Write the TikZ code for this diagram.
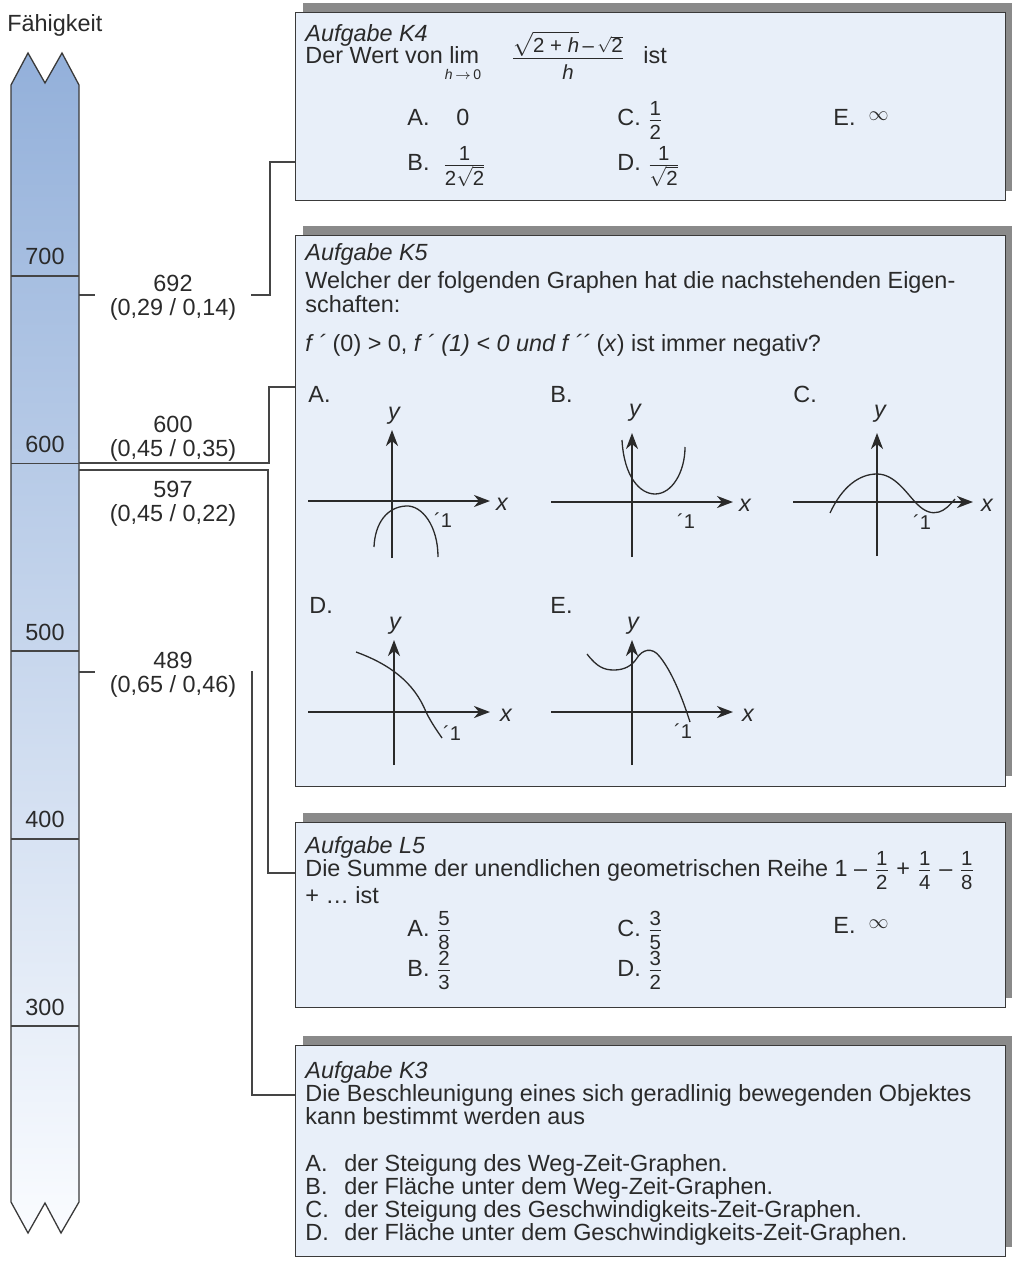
\documentclass[tikz,border=0pt]{standalone}
\usepackage{fontspec}
\setmainfont{Liberation Sans}
\usepackage{amsmath}
\usetikzlibrary{arrows.meta}
\definecolor{boxfill}{HTML}{E8EFF9}
\definecolor{boxline}{HTML}{3A3A3A}
\definecolor{shadowc}{HTML}{8A8A8A}
\definecolor{linec}{HTML}{454545}
\definecolor{bartop}{HTML}{93B0DA}
\definecolor{barbot}{HTML}{FAFCFF}
\definecolor{txtc}{HTML}{2A2A2A}
\newcommand{\msz}{\fontsize{11.7}{11.9}\selectfont}
\newcommand{\ssz}{\fontsize{10.2}{10.4}\selectfont}
\newcommand{\tsz}{\fontsize{7}{8}\selectfont}
\newcommand{\fr}[2]{\ensuremath{\genfrac{}{}{0.45pt}{1}{\text{\ssz\rule[-1.5pt]{0pt}{0pt}#1}}{\text{\ssz\rule{0pt}{9.2pt}#2}}}}
\newcommand{\infsym}{\raisebox{2.5pt}{\ssz$\infty$}}
\begin{document}
\begin{tikzpicture}[x=0.5pt,y=-0.5pt,
  txt/.style={anchor=base west,inner sep=0pt,font=\msz,text=txtc},
  ctxt/.style={anchor=base,inner sep=0pt,font=\msz,text=txtc},
  lab/.style={align=center,inner xsep=7.5pt,inner ysep=0pt,font=\msz,text=txtc},
  qbox/.style={draw=boxline,fill=boxfill,line width=0.7pt,anchor=north west,minimum width=355pt,inner sep=0pt},
  conn/.style={draw=linec,line width=0.65pt},
  axis/.style={draw=txtc,line width=1.2pt},
  axarrow/.style={axis,-{Stealth[length=8pt,width=6pt,inset=2.5pt]}},
  curve/.style={draw=txtc,line width=0.65pt},
  tick/.style={anchor=center,inner sep=0pt,font=\fontsize{10}{10}\selectfont,text=txtc},
  axlab/.style={anchor=center,inner sep=0pt,font=\msz\itshape,text=txtc}]
\useasboundingbox (0,0) rectangle (1012,1261);

% ---------- scale bar ----------
\shade[top color=bartop,bottom color=barbot,draw=boxline,line width=0.65pt]
  (11,85) -- (28,53) -- (45,83) -- (62,53) -- (79,85) -- (79,1202)
  -- (61,1233) -- (45,1203) -- (28,1233) -- (11,1202) -- cycle;
\foreach \yy in {276,463.5,651,839,1026} \draw[conn] (11,\yy) -- (79,\yy);
\node[ctxt] (t700) at (45,265) {700};
\node[ctxt] (t600) at (45,452) {600};
\node[ctxt] (t500) at (45,640) {500};
\node[ctxt] (t400) at (45,827) {400};
\node[ctxt] (t300) at (45,1015) {300};
\node[txt] (title) at (7,32) {Fähigkeit};

% ---------- boxes ----------
\fill[shadowc] (303,3) rectangle (1012,191);
\node[qbox,minimum height=94pt] (k4) at (295,12) {};
\fill[shadowc] (303,226) rectangle (1012,776);
\node[qbox,minimum height=275.5pt] (k5) at (295,235) {};
\fill[shadowc] (303,813) rectangle (1012,998);
\node[qbox,minimum height=92.5pt] (l5) at (295,822) {};
\fill[shadowc] (303,1036) rectangle (1012,1247);
\node[qbox,minimum height=105.5pt] (k3) at (295,1045) {};

% ---------- connectors ----------
\coordinate (b692) at (79,295);
\coordinate (v692) at (270,162);
\node[lab] (l692) at (173,298) {692\\(0,29 / 0,14)};
\draw[conn] (b692) -- (l692.west |- b692);
\draw[conn] (l692.east |- b692) -| (v692) -- (k4.west |- v692);

\coordinate (b600) at (79,463);
\coordinate (v600) at (269,387);
\node[lab] (l600) at (173,439) {600\\(0,45 / 0,35)};
\draw[conn] (b600) -| (v600) -- (k5.west |- v600);

\coordinate (b597) at (79,470);
\coordinate (v597) at (268,873);
\node[lab] (l597) at (173,504) {597\\(0,45 / 0,22)};
\draw[conn] (b597) -| (v597) -- (l5.west |- v597);

\coordinate (b489) at (79,672);
\coordinate (v489) at (252,1095);
\node[lab] (l489) at (173,675) {489\\(0,65 / 0,46)};
\draw[conn] (b489) -- (l489.west |- b489);
\draw[conn] (l489.east |- b489) -| (v489) -- (k3.west |- v489);

% ---------- K4 ----------
\node[txt] (k4a) at (305,42) {\itshape Aufgabe K4};
\node[txt] (k4b) at (305,64) {Der Wert von lim};
\node[anchor=base,inner sep=0pt,font=\tsz,text=txtc] (k4lim) at (463,80) {\textit{h}\,$\rightarrow$\,0};
\node[ctxt] (k4fr) at (568,64) {$\genfrac{}{}{0.45pt}{1}{\rule[-2pt]{0pt}{0pt}\sqrt{\text{\ssz 2 + \textit{h}}}\text{\ssz\,–\,}\sqrt{\text{\ssz 2}}}{\text{\ssz\rule{0pt}{10pt}\textit{h}}}$};
\node[txt] (k4c) at (643,64) {ist};
\node[txt] (k4A) at (407,126) {A.};
\node[txt] (k4A2) at (456,126) {0};
\node[txt] (k4C) at (617,126) {C. \fr{1}{2}};
\node[txt] (k4E) at (833,126) {E.\ \ \infsym};
\node[txt] (k4B) at (407,171) {B.\ \ \fr{1}{2$\sqrt{\text{\ssz 2}}$}};
\node[txt] (k4D) at (617,171) {D. \fr{1}{$\sqrt{\text{\ssz 2}}$}};

% ---------- K5 ----------
\node[txt] (k5a) at (305,261) {\itshape Aufgabe K5};
\node[txt] (k5b) at (305,289) {Welcher der folgenden Graphen hat die nachstehenden Eigen-};
\node[txt] (k5c) at (305,313) {schaften:};
\node[txt] (k5d) at (305,352) {\textit{f ´} (0) > 0, \textit{f ´ (1) < 0 und f ´´} (\textit{x}) ist immer negativ?};
\node[txt] (gA) at (308,402) {A.};
\node[txt] (gB) at (550,402) {B.};
\node[txt] (gC) at (793,402) {C.};
\node[txt] (gD) at (309,613) {D.};
\node[txt] (gE) at (550,613) {E.};

% graph A
\begin{scope}[shift={(392,501)}]
  \draw[axarrow] (-84,0) -- (98,0);
  \draw[axarrow] (0,57) -- (0,-71);
  \node[axlab] (xA) at (110,3) {x};
  \node[axlab] (yA) at (2,-85) {y};
  \node[tick] (oA) at (51,19) {´1};
  \draw[curve] (-18,46) .. controls (-17,22) and (-5,6) .. (14,5) .. controls (30,4) and (46,25) .. (46,56);
\end{scope}
% graph B
\begin{scope}[shift={(632,502)}]
  \draw[axarrow] (-81,0) -- (101,0);
  \draw[axarrow] (0,55) -- (0,-69);
  \node[axlab] (xB) at (113,3) {x};
  \node[axlab] (yB) at (3,-89) {y};
  \node[tick] (oB) at (54,19) {´1};
  \draw[curve] (-10,-62) .. controls (-8,-25) and (8,-8) .. (23,-8) .. controls (40,-8) and (53,-30) .. (53,-55);
\end{scope}
% graph C
\begin{scope}[shift={(877,502)}]
  \draw[axarrow] (-84,0) -- (96,0);
  \draw[axarrow] (0,54) -- (0,-69);
  \node[axlab] (xC) at (110,3) {x};
  \node[axlab] (yC) at (3,-88) {y};
  \node[tick] (oC) at (45,20) {´1};
  \draw[curve] (-47,11) .. controls (-35,-15) and (-18,-28) .. (0,-28) .. controls (18,-28) and (30,-8) .. (40,2) .. controls (48,10) and (55,12) .. (62,10) .. controls (68,8) and (72,4) .. (78,-3);
\end{scope}
% graph D
\begin{scope}[shift={(394,712)}]
  \draw[axarrow] (-86,0) -- (96,0);
  \draw[axarrow] (0,53) -- (0,-72);
  \node[axlab] (xD) at (112,3) {x};
  \node[axlab] (yD) at (1,-86) {y};
  \node[tick] (oD) at (58,21) {´1};
  \draw[curve] (-38,-60) .. controls (-5,-48) and (20,-30) .. (32,0) .. controls (38,12) and (44,20) .. (48,26);
\end{scope}
% graph E
\begin{scope}[shift={(632,712)}]
  \draw[axarrow] (-81,0) -- (101,0);
  \draw[axarrow] (0,53) -- (0,-72);
  \node[axlab] (xE) at (116,3) {x};
  \node[axlab] (yE) at (1,-86) {y};
  \node[tick] (oE) at (51,19) {´1};
  \draw[curve] (-45,-58) .. controls (-35,-45) and (-28,-42) .. (-18,-42) .. controls (-8,-42) and (0,-46) .. (5,-54) .. controls (10,-62) and (20,-66) .. (28,-55) .. controls (40,-40) and (50,-15) .. (58,10);
\end{scope}

% ---------- L5 ----------
\node[txt] (l5a) at (305,853) {\itshape Aufgabe L5};
\node[txt] (l5b) at (305,876) {Die Summe der unendlichen geometrischen Reihe 1 – \fr{1}{2} + \fr{1}{4} – \fr{1}{8}};
\node[txt] (l5c) at (305,903) {+ … ist};
\node[txt] (l5A) at (407,936) {A. \fr{5}{8}};
\node[txt] (l5C) at (617,936) {C. \fr{3}{5}};
\node[txt] (l5E) at (833,933) {E.\ \ \infsym};
\node[txt] (l5B) at (407,976) {B. \fr{2}{3}};
\node[txt] (l5D) at (617,976) {D. \fr{3}{2}};

% ---------- K3 ----------
\node[txt] (k3a) at (305,1078) {\itshape Aufgabe K3};
\node[txt] (k3b) at (305,1101) {Die Beschleunigung eines sich geradlinig bewegenden Objektes};
\node[txt] (k3c) at (305,1124) {kann bestimmt werden aus};
\node[txt] (k3A) at (305,1171) {A.};
\node[txt] (k3At) at (344,1171) {der Steigung des Weg-Zeit-Graphen.};
\node[txt] (k3B) at (305,1194) {B.};
\node[txt] (k3Bt) at (344,1194) {der Fläche unter dem Weg-Zeit-Graphen.};
\node[txt] (k3C) at (305,1217) {C.};
\node[txt] (k3Ct) at (344,1217) {der Steigung des Geschwindigkeits-Zeit-Graphen.};
\node[txt] (k3D) at (305,1240) {D.};
\node[txt] (k3Dt) at (344,1240) {der Fläche unter dem Geschwindigkeits-Zeit-Graphen.};
\end{tikzpicture}
\end{document}
